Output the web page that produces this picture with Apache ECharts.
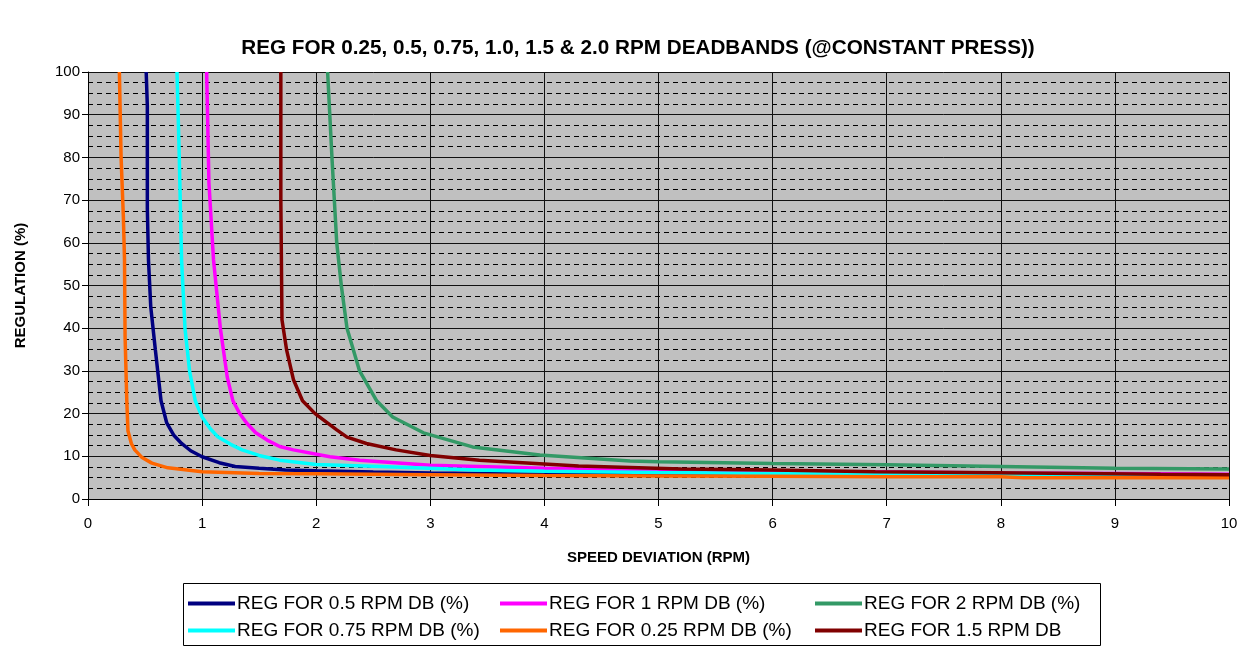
<!DOCTYPE html>
<html>
<head>
<meta charset="utf-8">
<script src="https://cdn.jsdelivr.net/npm/echarts@6/dist/echarts.min.js"></script>
<style>
html,body{margin:0;padding:0;background:#fff;}
#chart{width:1242px;height:649px;}
</style>
</head>
<body>
<div id="chart"></div>
<script>
// ---- Data ----
const titleText = 'REG FOR 0.25, 0.5, 0.75, 1.0, 1.5 & 2.0 RPM DEADBANDS (@CONSTANT PRESS))';
const xAxisName = 'SPEED DEVIATION (RPM)';
const yAxisName = 'REGULATION (%)';

const seriesNames = [
  'REG FOR 0.5 RPM DB (%)',
  'REG FOR 1 RPM DB (%)',
  'REG FOR 2 RPM DB (%)',
  'REG FOR 0.75 RPM DB (%)',
  'REG FOR 0.25 RPM DB (%)',
  'REG FOR 1.5 RPM DB'
];
const seriesColors = ['#000080', '#FF00FF', '#339966', '#00FFFF', '#FF6600', '#800000'];

// DB 0.5
const x05 = [0.51,0.52,0.52,0.53,0.55,0.59,0.64,0.69,0.75,0.82,0.9,1.0,1.15,1.29,1.5,1.73,2.0,2.5,3,4,5,6,7,8,9,10];
const y05 = [100,92,68,56,45,35,23,17.8,15,13,11.3,9.9,8.5,7.6,7.2,6.8,6.6,6.3,6.1,5.8,5.6,5.5,5.4,5.3,5.3,5.2];
// DB 1.0
const x10 = [1.04,1.06,1.1,1.16,1.22,1.27,1.33,1.39,1.47,1.57,1.68,1.8,2.12,2.38,3.0,4,5,6,7,8,9,10];
const y10 = [100,74,56,40,28.6,23,20,17.8,15.5,13.8,12.3,11.5,9.9,9.1,7.9,7.2,6.7,6.5,6.3,6.1,6.0,5.8];
// DB 2.0
const x20 = [2.1,2.14,2.18,2.22,2.27,2.38,2.53,2.67,2.94,3.37,3.96,4.75,5,6,7,8,9,10];
const y20 = [100,79,60,50,40,30,23,19.2,15.5,12.2,10.3,8.9,8.7,8.3,8.0,7.6,7.2,7.0];
// DB 0.75
const x075 = [0.78,0.8,0.82,0.85,0.89,0.94,1.0,1.07,1.14,1.25,1.35,1.5,1.68,2.0,2.56,3.4,4,5,6,7,8,9,10];
const y075 = [100,80,56,40,30,23,19.2,16.5,14.5,12.8,11.5,10.2,9.1,8.1,7.6,6.8,6.5,6.2,6.0,5.8,5.6,5.5,5.4];
// DB 0.25
const x025 = [0.275,0.29,0.31,0.32,0.325,0.34,0.35,0.38,0.41,0.47,0.56,0.7,1.0,1.5,2,3,4,5,6,7,8,8.2,9,10];
const y025 = [100,80,66,56,38,23,16,13,11.5,9.8,8.4,7.3,6.4,6.0,5.9,5.7,5.5,5.4,5.3,5.2,5.2,5.0,5.0,5.0];
// DB 1.5
const x15 = [1.69,1.69,1.70,1.74,1.8,1.88,1.99,2.18,2.27,2.44,2.7,3.0,3.43,4.3,5.2,6,6.9,8.2,9.4,10];
const y15 = [100,70,42,35,28,23,20,16.2,14.5,13,11.5,10.2,9.1,7.7,7.0,6.8,6.4,6.1,5.8,5.7];

const seriesX = [x05, x10, x20, x075, x025, x15];
const seriesY = [y05, y10, y20, y075, y025, y15];

const xTicks = [0,1,2,3,4,5,6,7,8,9,10];
const yTicks = [0,10,20,30,40,50,60,70,80,90,100];

// ---- Build chart ----
const FONT = 'Liberation Sans, Arial, sans-serif';
const chart = echarts.init(document.getElementById('chart'), null, {renderer: 'canvas'});

const series = seriesNames.map((name, i) => ({
  name: name,
  type: 'line',
  showSymbol: false,
  symbol: 'none',
  data: seriesX[i].map((x, j) => [x, seriesY[i][j]]),
  lineStyle: {color: seriesColors[i], width: 3.5},
  itemStyle: {color: seriesColors[i]},
  emphasis: {disabled: true},
  animation: false,
  z: 3 + i
}));

// Legend placement: three columns, two rows
const legendCols = [188, 500, 815];
const legendRows = [594, 621];
const legendPos = [[0,0],[1,0],[2,0],[0,1],[1,1],[2,1]];
const legends = seriesNames.map((name, i) => ({
  data: [{name: name, icon: 'rect'}],
  left: legendCols[legendPos[i][0]],
  top: legendRows[legendPos[i][1]],
  padding: 0,
  itemWidth: 47,
  itemHeight: 4,
  selectedMode: false,
  textStyle: {fontFamily: FONT, fontSize: 19, color: '#000', padding: [0,0,0,-3]}
}));

chart.setOption({
  animation: false,
  backgroundColor: '#fff',
  title: {
    text: titleText,
    left: 633,
    textAlign: 'center',
    top: 33,
    textStyle: {fontFamily: FONT, fontSize: 20.7, fontWeight: 'bold', color: '#000'}
  },
  legend: legends,
  graphic: [{
    type: 'rect',
    shape: {x: 183.5, y: 583.5, width: 917, height: 62},
    style: {fill: 'none', stroke: '#000', lineWidth: 1},
    silent: true
  }],
  grid: {
    left: 88, right: 13, top: 72, bottom: 150,
    show: true, backgroundColor: '#C0C0C0', borderWidth: 0
  },
  xAxis: {
    type: 'value', min: 0, max: 10, interval: 1,
    name: xAxisName, nameLocation: 'middle', nameGap: 51,
    nameTextStyle: {fontFamily: FONT, fontSize: 15, fontWeight: 'bold', color: '#000'},
    axisLine: {show: true, onZero: false, lineStyle: {color: '#000', width: 1}},
    axisTick: {show: true, length: 7, lineStyle: {color: '#000'}},
    axisLabel: {fontFamily: FONT, fontSize: 15, color: '#000', margin: 17,
      formatter: v => xTicks.includes(v) ? String(v) : ''},
    splitLine: {show: true, lineStyle: {color: '#111', width: 1}}
  },
  yAxis: {
    type: 'value', min: 0, max: 100, interval: 10,
    name: yAxisName, nameLocation: 'middle', nameGap: 60, nameRotate: 90,
    nameTextStyle: {fontFamily: FONT, fontSize: 15, fontWeight: 'bold', color: '#000'},
    axisLine: {show: true, onZero: false, lineStyle: {color: '#000', width: 1}},
    axisTick: {show: true, length: 6, lineStyle: {color: '#000'}},
    axisLabel: {fontFamily: FONT, fontSize: 15, color: '#000', margin: 8,
      formatter: v => yTicks.includes(v) ? String(v) : ''},
    splitLine: {show: true, lineStyle: {color: '#111', width: 1}},
    minorTick: {show: false, splitNumber: 4},
    minorSplitLine: {show: true, lineStyle: {color: '#000', width: 1, type: [5, 4]}}
  },
  series: series
});
</script>
</body>
</html>
